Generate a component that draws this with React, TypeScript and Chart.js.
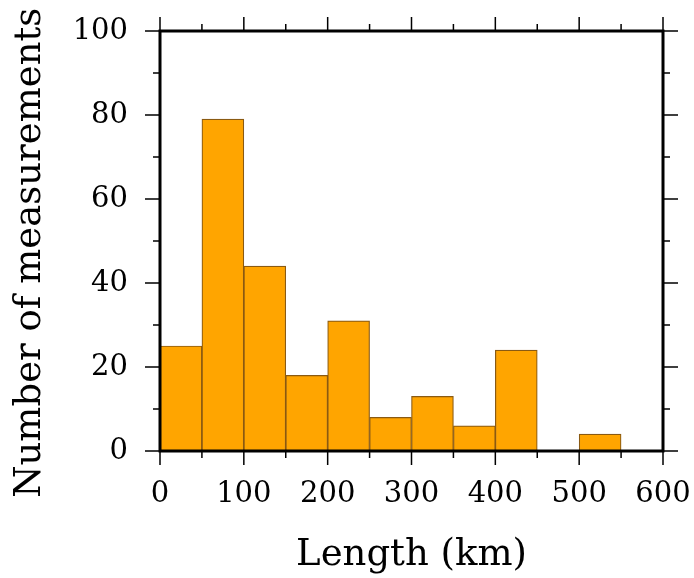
import React, { useEffect, useRef } from "react";
import { Chart, registerables } from "chart.js";

Chart.register(...registerables);

const binCenters = [25, 75, 125, 175, 225, 275, 325, 375, 425, 475, 525, 575];
const counts = [25, 79, 44, 18, 31, 8, 13, 6, 24, 0, 4, 0];
const xTitle = "Length (km)";
const yTitle = "Number of measurements";

const FONT = "'DejaVu Serif', serif";

const framePlugin = {
  id: "frame",
  afterDraw(chart: any) {
    const { ctx, chartArea: a, scales } = chart;
    const x = scales.x;
    const y = scales.y;
    ctx.save();
    ctx.strokeStyle = "#000";
    ctx.lineWidth = 1.5;
    for (let v = 0; v <= 600; v += 50) {
      const px = x.getPixelForValue(v);
      const len = v % 100 === 0 ? 14 : 7;
      ctx.beginPath();
      ctx.moveTo(px, a.bottom);
      ctx.lineTo(px, a.bottom + len);
      ctx.moveTo(px, a.top);
      ctx.lineTo(px, a.top - len);
      ctx.stroke();
    }
    for (let v = 0; v <= 100; v += 10) {
      const py = y.getPixelForValue(v);
      const len = v % 20 === 0 ? 15 : 7;
      ctx.beginPath();
      ctx.moveTo(a.left, py);
      ctx.lineTo(a.left - len, py);
      ctx.moveTo(a.right, py);
      ctx.lineTo(a.right + len, py);
      ctx.stroke();
    }
    ctx.lineWidth = 3;
    ctx.strokeRect(a.left, a.top, a.right - a.left, a.bottom - a.top);
    ctx.restore();
  },
};

export default function App() {
  const ref = useRef<HTMLCanvasElement>(null);
  useEffect(() => {
    const chart = new Chart(ref.current!, {
      type: "bar",
      data: {
        datasets: [
          {
            data: binCenters.map((c, i) => ({ x: c, y: counts[i] })),
            backgroundColor: "#FFA500",
            borderColor: "#8a5a12",
            borderWidth: 1.2,
            barPercentage: 1,
            categoryPercentage: 1,
          },
        ],
      },
      options: {
        animation: false,
        responsive: false,
        maintainAspectRatio: false,
        layout: { padding: { top: 31, right: 31, left: 0, bottom: 0 } },
        plugins: { legend: { display: false }, tooltip: { enabled: false } },
        scales: {
          x: {
            type: "linear",
            offset: false,
            min: 0,
            max: 600,
            grid: { display: false, drawTicks: false, offset: false },
            border: { display: false },
            ticks: {
              stepSize: 100,
              padding: 26,
              color: "#000",
              font: { family: FONT, size: 29 },
              maxRotation: 0,
            },
            title: {
              display: true,
              text: xTitle,
              color: "#000",
              font: { family: FONT, size: 37 },
              padding: { top: 0, bottom: 0 },
            },
            afterFit(scale: any) {
              scale.height = 127;
              scale.paddingLeft = 0;
              scale.paddingRight = 0;
            },
          },
          y: {
            min: 0,
            max: 100,
            grid: { display: false, drawTicks: false },
            border: { display: false },
            ticks: {
              stepSize: 20,
              padding: 32,
              color: "#000",
              font: { family: FONT, size: 29 },
            },
            title: {
              display: true,
              text: yTitle + "  ",
              color: "#000",
              font: { family: FONT, size: 37 },
              padding: { top: 8, bottom: 0 },
            },
            afterFit(scale: any) {
              scale.width = 160;
              scale.paddingTop = 0;
              scale.paddingBottom = 0;
            },
          },
        },
      } as any,
      plugins: [framePlugin],
    });
    return () => chart.destroy();
  }, []);
  return (
    <div style={{ position: "fixed", left: 0, top: 0, width: 694, height: 578, background: "#fff" }}>
      <canvas ref={ref} width={694} height={578} style={{ width: 694, height: 578 }} />
    </div>
  );
}
